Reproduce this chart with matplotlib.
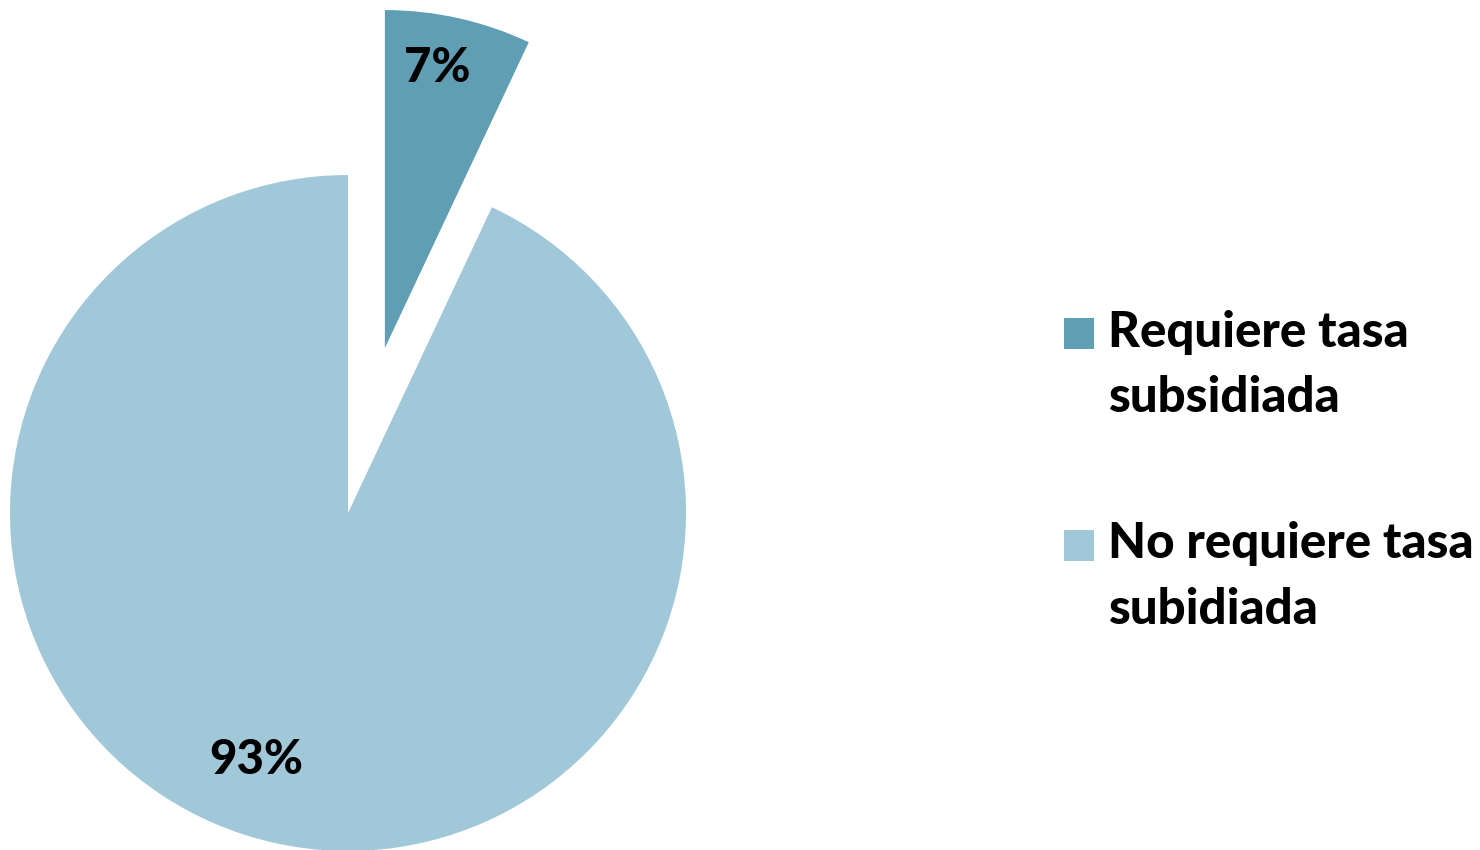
import matplotlib
matplotlib.use("Agg")
import matplotlib.pyplot as plt
from matplotlib.patches import Rectangle
from matplotlib.legend_handler import HandlerPatch

labels = ["Requiere tasa\nsubsidiada", "No requiere tasa\nsubidiada"]
shares = [7, 93]
pct_text = ["7%", "93%"]
colors = ["#5F9EB3", "#A1C8D9"]

W, H = 1480, 850
FONT = dict(family="Lato", weight="black")
LINESPACING = 1.55


def top_square(legend, orig_handle, xdescent, ydescent, width, height, fontsize):
    # put the square next to the first text line, not the middle of the block
    return Rectangle((-xdescent, -ydescent + 0.66 * fontsize), width, height)


fig = plt.figure(figsize=(W / 100, H / 100), dpi=100)
ax = fig.add_axes([0, 0, 1, 1])

wedges, _ = ax.pie(shares, colors=colors, startangle=90, counterclock=False,
                   explode=[169, 0], radius=338, center=(348, 337),
                   wedgeprops=dict(linewidth=0))
ax.set_xlim(0, W)
ax.set_ylim(0, H)
ax.set_aspect("equal")
ax.axis("off")

# percentage labels, placed like the original
ax.text(437, 782, pct_text[0], ha="center", va="center", fontsize=34, **FONT)
ax.text(256, 90, pct_text[1], ha="center", va="center", fontsize=34, **FONT)

leg = ax.legend(wedges, labels, loc="upper left",
                bbox_to_anchor=(1064 / W, 1 - 310 / H), frameon=False,
                prop=dict(size=35.5, **FONT),
                handlelength=0.6, handleheight=0.6, handletextpad=0.3,
                labelspacing=2.05, borderpad=0, borderaxespad=0,
                handler_map={w: HandlerPatch(patch_func=top_square) for w in wedges})
for t in leg.get_texts():
    t.set_linespacing(LINESPACING)

fig.savefig("out.png", dpi=100)
